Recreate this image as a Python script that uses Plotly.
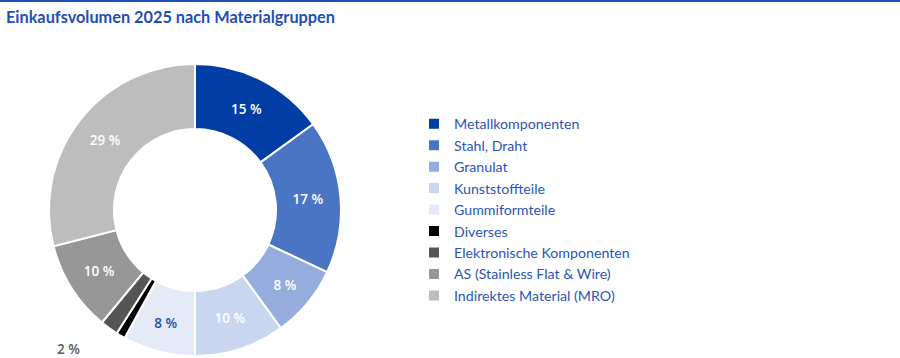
import plotly.graph_objects as go

categories = ["Metallkomponenten", "Stahl, Draht", "Granulat", "Kunststoffteile",
              "Gummiformteile", "Diverses", "Elektronische Komponenten",
              "AS (Stainless Flat & Wire)", "Indirektes Material (MRO)"]
values = [15, 17, 8, 10, 8, 1, 2, 10, 29]
colors = ["#003da5", "#4a74c4", "#95acdc", "#c9d6ef", "#e4eaf6",
          "#000000", "#555555", "#979797", "#bdbdbd"]
label_colors = ["white", "white", "white", "white", "#1f4eb4",
                "white", "white", "white", "white"]
show_inside = [True, True, True, True, True, False, False, True, True]
outside_label_index = 6

texts = [f"{v} %" if s else "" for v, s in zip(values, show_inside)]
positions = ["inside" if s else "none" for s in show_inside]

fig = go.Figure()
fig.add_trace(go.Pie(
    labels=categories, values=values, sort=False, direction="clockwise",
    rotation=0, hole=0.555,
    marker=dict(colors=colors, line=dict(color="white", width=2)),
    text=texts, textinfo="text", textposition=positions,
    insidetextorientation="horizontal",
    insidetextfont=dict(color=label_colors, size=13.5, family="Open Sans", weight=600),
    hoverinfo="label+percent",
    domain=dict(x=[0.0544, 0.3789], y=[0.0056, 0.8212]),
))

fig.add_annotation(
    text=f"{values[outside_label_index]} %", x=68 / 900, y=1 - 349 / 358,
    xref="paper", yref="paper", showarrow=False, xanchor="center", yanchor="middle",
    font=dict(family="Open Sans", size=13.5, color="#595959", weight=600),
)

fig.add_shape(type="line", xref="paper", yref="paper", x0=0, x1=1, y0=1, y1=1,
              line=dict(color="#1f4eb4", width=4))

fig.update_layout(
    width=900, height=358,
    margin=dict(l=0, r=0, t=0, b=0),
    paper_bgcolor="white", plot_bgcolor="white",
    title=dict(text="<b>Einkaufsvolumen 2025 nach Materialgruppen</b>",
               x=6 / 900, xanchor="left", y=1 - 17 / 358, yanchor="middle",
               font=dict(family="Lato", size=16.3, color="#1f4eb4")),
    legend=dict(x=414 / 900, y=1 - 108 / 358, xanchor="left", yanchor="top",
                font=dict(family="Lato", size=14.2, color="#2a55b8"),
                bgcolor="rgba(0,0,0,0)"),
    uniformtext=dict(minsize=13, mode="show"),
    showlegend=True,
)

fig.write_html("out.html", config={"displayModeBar": False},
               post_script="document.body.style.margin='0';document.body.style.overflow='hidden';")
